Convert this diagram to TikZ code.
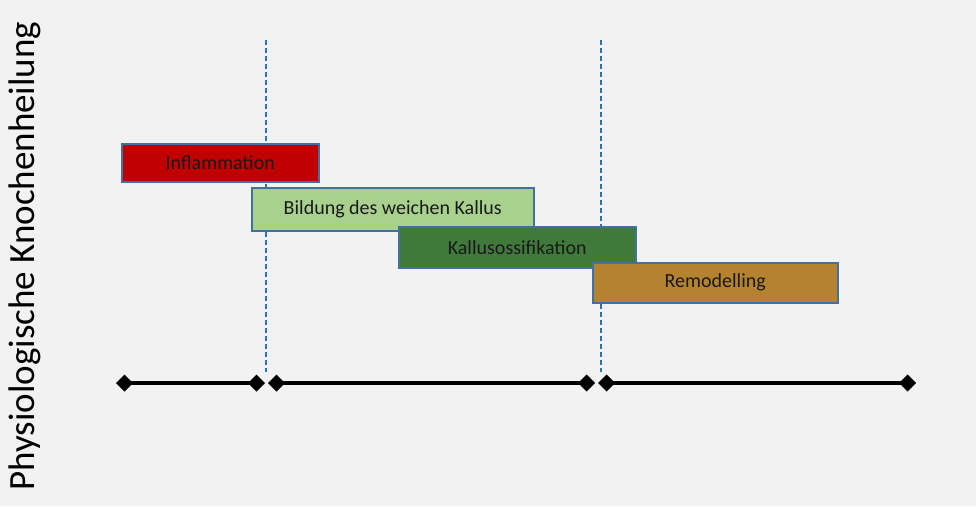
\documentclass[tikz,border=0pt]{standalone}
\usepackage{fontspec}
\setmainfont{Carlito}
\usetikzlibrary{arrows.meta}
\definecolor{bg}{HTML}{F2F2F2}
\definecolor{bord}{HTML}{41719C}
\definecolor{c1}{HTML}{C00000}
\definecolor{c2}{HTML}{A9D18E}
\definecolor{c3}{HTML}{3F7A3A}
\definecolor{c4}{HTML}{B5832F}
\definecolor{dashcol}{HTML}{2E75B6}
\begin{document}
\begin{tikzpicture}[x=1pt,y=-1pt,
  phase/.style={draw=bord,line width=1.5pt,anchor=north west,inner sep=0pt,font=\fontsize{20}{24}\selectfont,text=black!90},
  tl/.style={line width=4.5pt,{Diamond[length=17pt,width=17pt]}-{Diamond[length=17pt,width=17pt]},shorten <=-8pt,shorten >=-8pt}]
\fill[bg] (0,0) rectangle (976,506);
\useasboundingbox (0,0) rectangle (976,506);
\coordinate (d1t) at (266,40); \coordinate (d1b) at (266,372);
\coordinate (d2t) at (601,40); \coordinate (d2b) at (601,372);
\draw[dashcol,dash pattern=on 5pt off 3pt,line width=1.3pt] (d1t) -- (d1b);
\draw[dashcol,dash pattern=on 5pt off 3pt,line width=1.3pt] (d2t) -- (d2b);
\node[phase,fill=c1,minimum width=197pt,minimum height=38pt] (infl) at (121,143) {Inflammation};
\node[phase,fill=c2,minimum width=282pt,minimum height=43pt] (bild) at (251,187) {Bildung des weichen Kallus};
\node[phase,fill=c3,minimum width=237pt,minimum height=41pt] (kal) at (398,226) {Kallusossifikation};
\node[phase,fill=c4,minimum width=245pt,minimum height=40pt] (rem) at (592,262) {Remodelling};
\coordinate (a1) at (124,383); \coordinate (a2) at (257,383);
\coordinate (b1) at (276,383); \coordinate (b2) at (587,383);
\coordinate (e1) at (606,383); \coordinate (e2) at (908,383);
\draw[tl] (a1) -- (a2);
\draw[tl] (b1) -- (b2);
\draw[tl] (e1) -- (e2);
\node[rotate=90,font=\fontsize{37}{42}\selectfont,text=black] (title) at (25,256) {Physiologische Knochenheilung};
\end{tikzpicture}
\end{document}
